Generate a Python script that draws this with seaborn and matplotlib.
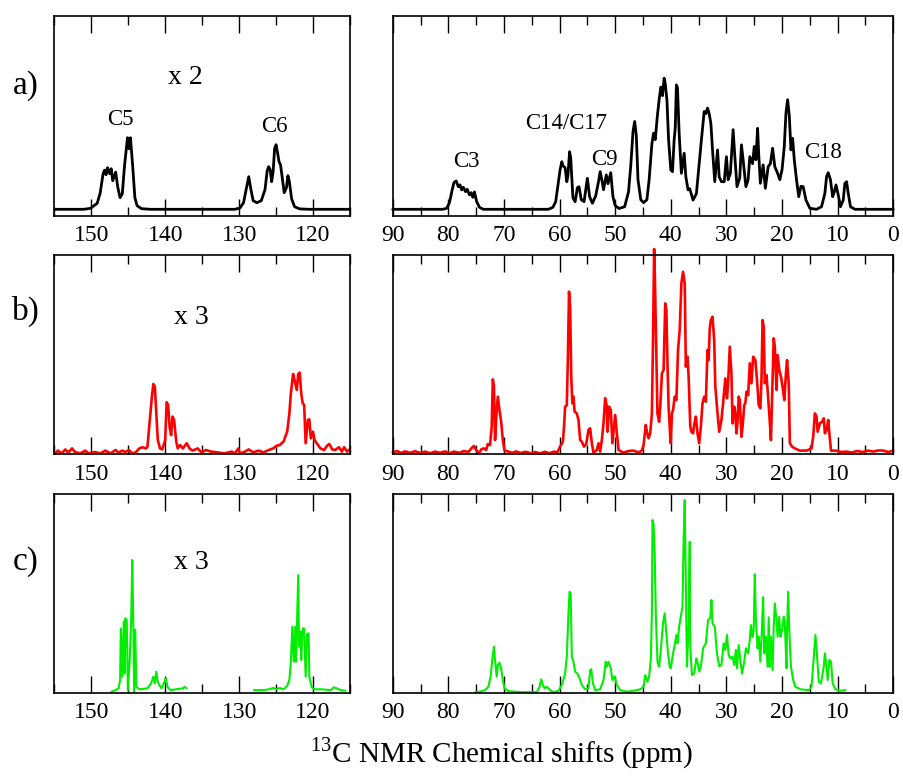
import matplotlib
matplotlib.use("Agg")
import matplotlib.pyplot as plt
import seaborn as sns
from matplotlib.ticker import MultipleLocator

# ---------------- data ----------------
# intensities are on a 0-100 scale of each panel's height
a_left_ppm = [155.0, 151.0, 150.1, 149.2, 148.8, 148.4, 148.2, 148.0, 147.8, 147.5, 147.3, 147.1, 146.7,
              146.4, 146.1, 145.8, 145.5, 145.1, 144.9, 144.7, 144.4, 144.1, 143.8, 143.2, 142.0,
              130.6, 129.9, 129.4, 129.0, 128.7, 128.4, 128.1, 127.6, 127.0, 126.5, 126.2, 126.0,
              125.8, 125.6, 125.4, 125.2, 125.0, 124.8, 124.6, 124.4, 124.2, 123.9, 123.6, 123.4,
              123.2, 122.9, 122.5, 121.8, 120.5, 115.0]
a_left_int = [3.2, 3.2, 3.7, 6.2, 11.2, 21.0, 22.8, 20.5, 24.0, 21.0, 23.5, 17.5, 21.8,
              14.0, 9.0, 11.0, 25.0, 39.0, 33.5, 39.0, 25.0, 9.0, 5.0, 3.5, 3.2,
              3.2, 3.8, 6.5, 14.0, 19.5, 13.0, 7.5, 6.5, 7.5, 13.0, 22.5, 24.5,
              23.0, 17.0, 22.0, 33.5, 35.5, 31.5, 27.0, 25.5, 20.0, 11.5, 14.0, 20.0,
              17.0, 8.5, 4.5, 3.4, 3.2, 3.2]

a_right_ppm = [90.0, 81.0, 80.3, 79.8, 79.3, 79.0, 78.6, 78.2, 77.9, 77.6, 77.3, 76.9, 76.6, 76.2, 75.9,
               75.6, 75.3, 74.9, 74.4, 73.7, 62.0, 61.2, 60.7, 60.3, 59.9, 59.6, 59.4, 59.0, 58.7,
               58.5, 58.2, 58.0, 57.6, 57.2, 56.8, 56.5, 56.1, 55.6, 55.0, 54.6, 54.1, 53.5, 53.0,
               52.7, 52.4, 52.1, 51.6, 51.3, 50.8, 50.4, 50.0, 49.3, 48.3, 47.6, 47.2, 46.8, 46.5,
               46.2, 45.9, 45.4, 44.9, 44.3, 43.9, 43.4, 43.1, 42.8, 42.4, 42.1, 41.8, 41.5, 41.2,
               41.0, 40.7, 40.4, 40.0, 39.7, 39.4, 39.2, 39.0, 38.8, 38.5, 38.1, 37.6, 37.3, 36.9,
               36.6, 36.0, 35.4, 34.9, 34.5, 34.0, 33.7, 33.4, 33.1, 32.8, 32.5, 32.1, 31.6, 31.3,
               30.9, 30.4, 30.0, 29.7, 29.3, 28.8, 28.5, 28.1, 27.6, 27.3, 27.0, 26.5, 26.1, 25.8,
               25.3, 25.0, 24.7, 24.4, 24.2, 23.9, 23.4, 23.0, 22.5, 22.1, 21.7, 21.3, 20.8, 20.4,
               20.0, 19.6, 19.3, 19.0, 18.7, 18.4, 18.1, 17.8, 17.4, 17.0, 16.6, 16.2, 15.7, 15.0,
               13.8, 12.9, 12.3, 12.0, 11.7, 11.3, 10.9, 10.6, 10.3, 9.9, 9.5, 9.0, 8.7, 8.4, 8.1,
               7.7, 6.9, 0.0]
a_right_int = [3.2, 3.2, 3.7, 6.5, 13.0, 16.5, 17.4, 14.5, 15.4, 12.9, 14.2, 12.0, 13.2, 10.4, 11.5,
               9.2, 11.9, 7.0, 4.2, 3.2, 3.2, 4.2, 7.0, 15.0, 23.0, 27.0, 25.0, 24.0, 17.0,
               20.0, 32.0, 29.0, 9.0, 7.0, 14.0, 14.5, 8.0, 7.0, 18.7, 9.5, 6.2, 10.0, 17.0,
               22.0, 18.0, 13.0, 20.4, 16.0, 21.5, 9.5, 5.0, 3.6, 4.5, 12.0, 25.0, 42.0, 47.1,
               40.0, 18.0, 8.0, 6.5, 8.0, 17.9, 36.0, 41.2, 38.0, 50.4, 57.9, 64.3, 60.0, 68.8,
               66.0, 57.9, 37.9, 22.9, 22.0, 37.9, 44.0, 65.4, 64.0, 41.2, 21.2, 31.2, 19.5, 12.9,
               13.5, 7.8, 11.0, 26.2, 37.9, 52.1, 51.0, 53.8, 51.0, 46.2, 32.9, 17.0, 32.9, 19.5,
               17.0, 17.0, 29.5, 18.0, 21.0, 43.0, 30.0, 14.5, 19.0, 35.4, 28.0, 14.5, 18.0, 29.5,
               26.0, 34.6, 28.0, 43.7, 31.0, 16.2, 25.4, 13.7, 24.5, 26.0, 33.7, 24.5, 21.2, 18.0,
               23.0, 34.6, 51.3, 58.0, 50.0, 32.9, 38.7, 27.9, 18.0, 9.5, 14.7, 14.5, 7.8, 3.7,
               3.2, 4.5, 11.2, 19.5, 21.5, 18.0, 9.5, 12.0, 15.4, 10.4, 4.5, 7.8, 16.2, 17.0, 11.2,
               4.5, 3.2, 3.2]

b_left_ppm = [154.9, 154.5, 154.0, 153.5, 153.1, 152.6, 152.2, 151.5, 150.8, 150.4, 149.5, 148.8, 148.1,
              147.4, 146.7, 146.3, 145.8, 145.4, 144.9, 144.5, 144.0, 143.5, 143.1, 142.6, 142.4,
              142.1, 141.8, 141.6, 141.4, 141.2, 141.0, 140.7, 140.4, 140.0, 139.8, 139.6, 139.4,
              139.2, 139.0, 138.8, 138.5, 138.3, 138.0, 137.6, 137.1, 136.7, 136.3, 135.6, 135.1,
              134.5, 133.8, 132.9, 132.0, 131.0, 130.6, 130.1, 129.9, 129.2, 128.7, 128.1, 127.4,
              126.7, 126.0, 125.4, 124.9, 124.5, 124.0, 123.5, 123.2, 123.0, 122.7, 122.5, 122.2,
              122.0, 121.8, 121.6, 121.4, 121.2, 121.0, 120.7, 120.5, 120.3, 120.0, 119.8, 119.5,
              119.0, 118.5, 118.1, 117.8, 117.4, 117.0, 116.5, 116.1, 115.8, 115.4, 114.9]
b_left_int = [0.3, 1.7, 0.3, 2.3, 0.7, 2.8, 1.0, 0.3, 1.7, 0.3, 1.0, 0.3, 1.7,
              0.3, 2.0, 0.7, 1.7, 1.0, 2.0, 0.3, 0.8, 2.8, 3.4, 2.8, 3.7,
              16.2, 28.8, 35.2, 33.8, 20.4, 7.0, 2.8, 2.3, 7.0, 26.0, 24.6, 13.7,
              9.5, 18.8, 17.1, 6.2, 2.8, 4.5, 2.8, 5.4, 2.8, 1.7, 2.8, 0.8,
              2.0, 1.2, 0.8, 0.3, 1.2, 0.3, 2.8, 0.3, 1.2, 2.3, 0.8, 1.7,
              0.8, 2.0, 2.8, 4.2, 4.5, 6.2, 11.2, 20.4, 30.5, 40.2, 37.2, 32.2,
              40.2, 40.9, 30.5, 25.5, 24.6, 5.4, 17.1, 17.4, 7.9, 11.2, 7.0, 5.4,
              2.8, 2.0, 4.2, 5.0, 2.3, 2.0, 3.4, 1.2, 3.4, 1.2, 2.8]

b_right_ppm = [90.0, 89.2, 88.5, 87.8, 86.9, 86.0, 85.0, 84.2, 83.3, 82.4, 81.5, 80.6, 79.8, 79.0, 78.0,
               77.2, 76.4, 75.8, 75.4, 75.0, 74.5, 74.0, 73.6, 73.2, 72.9, 72.5, 72.2, 72.0, 71.8,
               71.6, 71.3, 71.1, 70.8, 70.5, 70.2, 69.9, 69.2, 68.5, 67.8, 67.0, 66.1, 65.2, 64.4,
               63.5, 62.7, 61.8, 61.0, 60.4, 59.9, 59.4, 59.2, 59.0, 58.7, 58.5, 58.3, 58.1, 57.9,
               57.7, 57.5, 57.3, 56.9, 56.6, 56.3, 56.0, 55.6, 55.2, 54.8, 54.5, 54.2, 53.9, 53.3,
               53.0, 52.7, 52.4, 52.1, 51.8, 51.5, 51.4, 51.1, 50.8, 50.5, 50.2, 50.0, 49.7, 49.4,
               48.5, 47.6, 46.7, 45.8, 45.2, 44.9, 44.5, 44.3, 44.0, 43.7, 43.4, 43.2, 43.0, 42.9,
               42.6, 42.4, 42.1, 41.9, 41.6, 41.3, 41.0, 40.8, 40.6, 40.4, 40.1, 40.0, 39.8, 39.6,
               39.3, 39.0, 38.7, 38.4, 38.1, 37.8, 37.5, 37.3, 37.0, 36.8, 36.5, 36.3, 36.0, 35.8,
               35.5, 35.2, 34.9, 34.6, 34.3, 34.0, 33.7, 33.4, 33.2, 33.0, 32.8, 32.5, 32.2, 32.0,
               31.6, 31.3, 30.9, 30.6, 30.2, 29.9, 29.7, 29.4, 29.1, 28.9, 28.6, 28.4, 28.2, 28.0,
               27.8, 27.6, 27.3, 27.1, 26.8, 26.6, 26.4, 26.1, 25.8, 25.5, 25.2, 24.8, 24.5, 24.2,
               23.9, 23.7, 23.5, 23.3, 23.1, 22.8, 22.6, 22.2, 22.0, 21.7, 21.5, 21.3, 21.0, 20.8,
               20.5, 20.2, 19.9, 19.6, 19.3, 19.1, 18.8, 18.6, 18.2, 17.7, 16.8, 15.6, 14.7, 14.4,
               14.1, 13.8, 13.6, 13.2, 12.8, 12.5, 12.3, 12.0, 11.7, 11.5, 11.2, 10.3, 9.4, 8.4,
               7.5, 6.5, 5.5, 4.6, 3.6, 2.7, 1.8, 0.9, 0.0]
b_right_int = [0.8, 1.5, 0.5, 1.3, 0.6, 1.4, 0.5, 1.2, 0.4, 1.2, 0.6, 1.3, 0.4, 1.2, 0.6,
               1.5, 1.0, 3.0, 4.0, 2.0, 0.5, 2.5, 2.8, 2.0, 5.0, 4.5, 13.7, 37.5, 34.0,
               7.0, 22.0, 28.8, 22.0, 16.2, 7.0, 1.7, 1.2, 0.6, 1.3, 0.5, 1.1, 0.4, 1.0,
               0.3, 1.1, 0.4, 1.2, 0.8, 3.7, 6.2, 13.7, 23.8, 24.6, 48.9, 81.6, 74.0, 38.9,
               25.5, 28.8, 21.3, 20.4, 17.1, 7.0, 6.2, 3.7, 5.0, 12.1, 12.9, 5.4, 0.7, 2.0,
               5.4, 1.2, 7.0, 15.4, 28.0, 23.8, 11.2, 23.8, 22.1, 5.4, 13.7, 19.6, 10.4, 2.0,
               0.7, 1.5, 1.7, 0.8, 1.7, 4.5, 14.6, 11.2, 7.9, 10.4, 20.4, 57.3, 103.0, 94.0,
               49.0, 20.4, 16.2, 23.8, 40.5, 42.2, 75.7, 72.4, 45.6, 23.8, 8.7, 5.4, 20.4, 22.1,
               28.8, 27.1, 52.3, 62.3, 85.8, 91.6, 85.8, 43.9, 48.9, 38.9, 13.7, 11.2, 10.4, 14.6,
               18.8, 10.4, 5.4, 13.7, 25.5, 28.8, 26.3, 52.3, 47.2, 63.1, 67.3, 69.0, 57.3, 33.8,
               20.4, 11.2, 17.1, 25.5, 38.0, 28.0, 35.5, 53.9, 40.5, 15.4, 23.8, 20.4, 10.4, 16.2,
               28.8, 27.1, 8.7, 13.7, 24.6, 25.5, 31.3, 29.6, 45.6, 35.5, 48.9, 47.2, 37.2, 24.6,
               23.0, 37.2, 67.3, 63.9, 35.5, 39.7, 32.2, 16.2, 7.0, 37.2, 58.1, 53.9, 32.2, 49.7,
               42.2, 38.9, 33.8, 27.1, 40.5, 47.2, 35.5, 5.4, 3.7, 2.8, 1.7, 1.7, 2.8, 8.7,
               20.4, 18.8, 11.2, 15.4, 16.2, 17.9, 10.4, 12.1, 17.1, 10.4, 1.7, 1.7, 1.0, 1.2,
               0.7, 1.5, 1.0, 1.7, 1.2, 1.8, 1.7, 1.0, 1.7]

c_left_ppm_1 = [147.3, 146.7, 146.3, 146.1, 146.0, 145.8, 145.6, 145.5, 145.4, 145.2, 145.05, 144.8,
                144.6, 144.45, 144.3, 144.2, 144.05, 143.9, 143.5, 142.4, 141.9, 141.6, 141.4, 141.2,
                141.0, 140.8, 140.5, 140.1, 139.9, 139.7, 139.3, 138.5, 137.6, 137.4, 137.1]
c_left_int_1 = [0.5, 1.3, 2.2, 6.4, 32.4, 8.1, 35.8, 9.7, 37.5, 36.6, 1.3, 16.5,
                36.6, 66.9, 30.8, 0.5, 31.6, 3.0, 1.7, 2.2, 4.7, 8.1, 4.7, 10.6,
                5.5, 3.9, 2.2, 5.5, 7.2, 3.0, 1.3, 1.7, 2.2, 3.0, 2.2]
c_left_ppm_2 = [128.0, 126.7, 125.8, 125.4, 125.0, 124.5, 124.0, 123.5, 123.2, 123.0, 122.8, 122.6,
                122.4, 122.3, 122.0, 121.9, 121.7, 121.6, 121.4, 121.2, 121.0, 120.8, 120.6, 120.5,
                120.2, 119.9, 118.8, 117.6, 117.2, 116.8, 116.3, 115.6]
c_left_int_2 = [1.3, 1.3, 1.8, 2.5, 1.7, 2.4, 1.7, 3.4, 6.4, 15.6, 33.3, 15.6,
                33.3, 15.6, 59.3, 23.2, 30.8, 16.5, 32.4, 32.4, 8.1, 29.6, 29.9, 8.1,
                3.0, 1.7, 1.7, 1.3, 2.7, 2.2, 1.3, 1.0]

c_right_ppm = [75.2, 74.3, 73.4, 72.8, 72.4, 72.1, 71.8, 71.6, 71.3, 71.1, 70.8, 70.5, 70.2, 69.9,
               69.2, 67.1, 64.1, 63.6, 63.3, 63.0, 62.7, 62.4, 62.0, 61.7, 61.1, 60.2, 59.6, 59.0,
               58.7, 58.4, 58.2, 58.0, 57.8, 57.5, 57.2, 56.8, 56.4, 56.0, 55.4, 54.8, 54.5, 54.3,
               54.0, 53.6, 52.7, 52.1, 51.7, 51.5, 51.2, 50.8, 50.5, 50.1, 49.7, 49.1, 47.9, 46.7,
               45.5, 44.9, 44.6, 44.2, 43.9, 43.6, 43.4, 43.3, 43.1, 42.9, 42.7, 42.4, 42.1, 41.8,
               41.4, 41.1, 40.9, 40.5, 40.2, 40.0, 39.6, 39.3, 39.0, 38.8, 38.5, 38.2, 37.9, 37.7,
               37.5, 37.3, 37.1, 36.8, 36.6, 36.5, 36.2, 35.8, 35.4, 35.2, 34.9, 34.6, 34.2, 33.7,
               33.3, 32.9, 32.7, 32.5, 32.1, 31.7, 31.3, 30.9, 30.5, 30.2, 29.9, 29.6, 29.3, 28.9,
               28.6, 28.3, 28.1, 27.8, 27.5, 27.2, 26.8, 26.5, 26.1, 25.8, 25.6, 25.3, 25.1, 24.9,
               24.7, 24.4, 24.2, 23.9, 23.6, 23.4, 23.2, 22.9, 22.6, 22.4, 22.2, 22.0, 21.7, 21.5,
               21.3, 21.0, 20.8, 20.5, 20.3, 20.0, 19.7, 19.5, 19.2, 19.1, 18.9, 18.7, 18.4, 18.0,
               17.6, 16.7, 15.2, 14.7, 14.3, 14.0, 13.7, 13.4, 13.0, 12.5, 12.3, 12.1, 11.8, 11.5,
               11.2, 10.9, 10.4, 9.5, 8.6]
c_right_int = [0.2, 0.5, 1.3, 3.0, 8.1, 16.5, 23.2, 16.5, 8.1, 14.0, 15.1, 12.3, 6.4, 2.2,
               0.8, 0.3, 0.3, 3.0, 6.7, 3.9, 2.2, 3.0, 2.2, 1.3, 0.2, 1.0, 3.9, 9.7,
               18.2, 40.0, 50.9, 50.0, 18.2, 15.6, 10.6, 9.7, 7.2, 3.9, 1.7, 2.2, 11.4, 11.8,
               4.7, 1.3, 1.7, 6.4, 15.6, 13.1, 15.6, 12.3, 6.4, 8.1, 3.9, 1.3, 0.5, 1.0,
               1.7, 3.0, 8.9, 5.5, 8.1, 16.5, 40.0, 87.0, 85.0, 70.3, 40.0, 15.6, 13.1, 21.5,
               35.0, 40.0, 33.3, 19.8, 13.1, 12.3, 19.8, 24.0, 29.1, 24.9, 33.3, 38.3, 43.4, 77.0,
               97.1, 56.3, 13.1, 33.3, 76.1, 23.2, 8.9, 9.7, 17.3, 15.6, 10.6, 13.1, 22.4, 24.9,
               36.6, 37.5, 46.7, 35.0, 33.3, 19.8, 13.4, 13.9, 24.9, 21.5, 29.1, 18.9, 17.3, 18.2,
               14.0, 21.5, 12.3, 24.0, 16.5, 9.7, 15.6, 22.4, 19.8, 26.6, 34.1, 28.2, 31.6, 59.7,
               36.6, 22.4, 28.2, 15.6, 33.3, 48.1, 19.8, 28.2, 13.1, 38.0, 13.1, 28.2, 11.4, 33.3,
               45.0, 36.6, 28.2, 38.3, 28.2, 31.6, 38.3, 35.0, 12.3, 31.6, 50.9, 31.6, 13.1, 6.4,
               3.0, 1.7, 1.3, 3.0, 18.2, 29.1, 18.2, 5.5, 4.7, 13.1, 19.8, 15.6, 6.4, 16.5,
               15.6, 4.7, 1.7, 1.0, 1.3]

left_ticks = [150, 140, 130, 120]
right_ticks = [90, 80, 70, 60, 50, 40, 30, 20, 10, 0]
row_labels = ["a)", "b)", "c)"]
scale_labels = ["x 2", "x 3", "x 3"]
carbon_left = ["C5", "C6"]
carbon_right = ["C3", "C14/C17", "C9", "C18"]

# ---------------- style ----------------
sns.set_style("ticks")
plt.rcParams["font.family"] = ["Liberation Serif", "DejaVu Serif"]
plt.rcParams["mathtext.fontset"] = "custom"
plt.rcParams["mathtext.rm"] = "Liberation Serif"
plt.rcParams["text.color"] = "black"
plt.rcParams["axes.labelcolor"] = "black"
plt.rcParams["xtick.color"] = "black"
plt.rcParams["axes.edgecolor"] = "black"

W, H = 904, 776
fig = plt.figure(figsize=(W / 100, H / 100), dpi=100)


def px_rect(x0, x1, y0, y1):
    return [x0 / W, 1 - y1 / H, (x1 - x0) / W, (y1 - y0) / H]


def style_ax(ax, xlim, ticks):
    ax.set_xlim(*xlim)
    ax.set_ylim(0, 100)
    ax.set_yticks([])
    ax.set_xticks(ticks)
    ax.xaxis.set_minor_locator(MultipleLocator(5))
    ax.tick_params(axis="x", which="major", direction="in", top=True, bottom=True,
                   length=12.5, width=1.0, labelsize=17, pad=7, colors="black",
                   labelcolor="black")
    ax.tick_params(axis="x", which="minor", direction="in", top=True, bottom=True,
                   length=6.5, width=1.0, colors="black")
    for s in ax.spines.values():
        s.set_visible(True)
        s.set_linewidth(1.2)
        s.set_color("black")
    ax.set_xlabel("")
    ax.set_ylabel("")


rows = [(15.7, 215.7), (255.0, 454.0), (494.3, 692.7)]
left_x = (54.3, 350.0)
right_x = (392.7, 893.3)

colors = ["black", "#ff0000", "#00ee00"]
lws = [2.0, 1.9, 1.5]

left_data = [[(a_left_ppm, a_left_int)],
             [(b_left_ppm, b_left_int)],
             [(c_left_ppm_1, c_left_int_1), (c_left_ppm_2, c_left_int_2)]]
right_data = [(a_right_ppm, a_right_int), (b_right_ppm, b_right_int), (c_right_ppm, c_right_int)]

for i, (y0, y1) in enumerate(rows):
    axl = fig.add_axes(px_rect(left_x[0], left_x[1], y0, y1))
    for xs, ys in left_data[i]:
        sns.lineplot(x=xs, y=ys, ax=axl, color=colors[i], lw=lws[i], sort=False, estimator=None)
    style_ax(axl, (155, 115), left_ticks)

    axr = fig.add_axes(px_rect(right_x[0], right_x[1], y0, y1))
    xs, ys = right_data[i]
    sns.lineplot(x=xs, y=ys, ax=axr, color=colors[i], lw=lws[i], sort=False, estimator=None,
                 clip_on=False)
    style_ax(axr, (90, 0), right_ticks)

    # row label
    fig.text(26.0 / W, 1 - [86, 311.7, 562.0][i] / H, row_labels[i], fontsize=24,
             ha="center", va="center")
    # scale factor label
    axl.text([137.3, 136.5, 136.5][i], [68.9, 68.8, 65.4][i], scale_labels[i], fontsize=20,
             ha="center", va="center")
    if i == 0:
        for lab, x, y in zip(carbon_left, [146.0, 125.2], [47.9, 44.4]):
            axl.text(x, y, lab, fontsize=16.5, ha="center", va="center")
        for lab, x, y in zip(carbon_right, [76.8, 58.8, 52.0, 12.7], [26.9, 45.9, 27.9, 31.4]):
            axr.text(x, y, lab, fontsize=16.5, ha="center", va="center")

fig.text(502 / W, 1 - 753 / H, r"$^{\mathrm{13}}$C NMR Chemical shifts (ppm)", fontsize=21,
         ha="center", va="center")

fig.savefig("out.png", dpi=100)
